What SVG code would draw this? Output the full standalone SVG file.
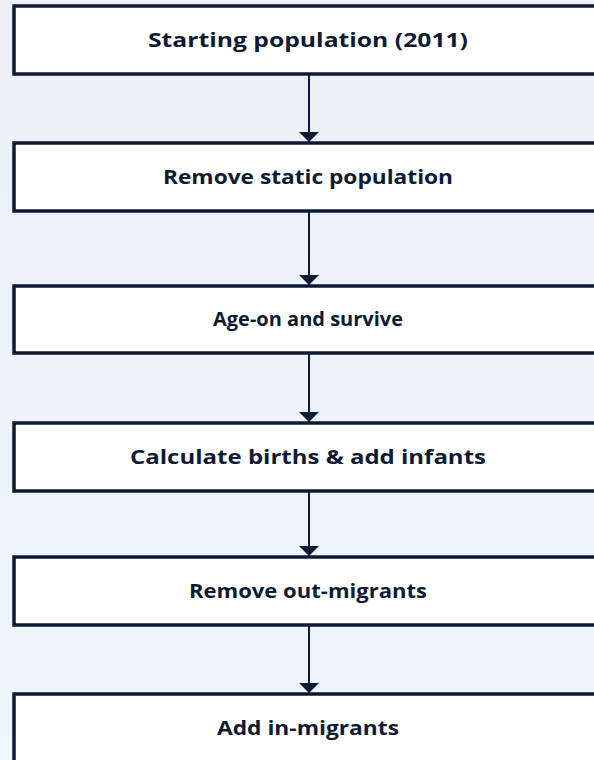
<svg xmlns="http://www.w3.org/2000/svg" width="594" height="760" viewBox="0 0 594 760">
  <defs>
    <linearGradient id="bg" x1="0" y1="0" x2="0" y2="1">
      <stop offset="0" stop-color="#eceef3"/>
      <stop offset="1" stop-color="#eff6fe"/>
    </linearGradient>
    <marker id="arrow" viewBox="0 0 10 20" refX="10" refY="10" markerWidth="10" markerHeight="20" markerUnits="userSpaceOnUse" orient="auto">
      <path d="M0,0 L10,10 L0,20 Z" fill="#0c1a33"/>
    </marker>
    <style>
      .box { fill: #ffffff; stroke: #0c1a33; stroke-width: 3.5; }
      .label { font-family: "Open Sans", "Liberation Sans", sans-serif; font-weight: bold; font-size: 19.5px; fill: #0d1a33; text-anchor: middle; }
      .conn { stroke: #0c1a33; stroke-width: 2; fill: none; marker-end: url(#arrow); }
    </style>
  </defs>

  <rect width="594" height="760" fill="url(#bg)"/>

  <g id="connectors">
    <line class="conn" x1="309" y1="74" x2="309" y2="142"/>
    <line class="conn" x1="309" y1="211" x2="309" y2="285"/>
    <line class="conn" x1="309" y1="353" x2="309" y2="422"/>
    <line class="conn" x1="309" y1="491" x2="309" y2="556"/>
    <line class="conn" x1="309" y1="625" x2="309" y2="693"/>
  </g>

  <g id="starting-population">
    <rect class="box" x="14" y="6" width="600" height="68"/>
    <text class="label" x="308" y="47" textLength="320" lengthAdjust="spacingAndGlyphs">Starting population (2011)</text>
  </g>
  <g id="remove-static">
    <rect class="box" x="14" y="143" width="600" height="68"/>
    <text class="label" x="308" y="184" textLength="290" lengthAdjust="spacingAndGlyphs">Remove static population</text>
  </g>
  <g id="age-on">
    <rect class="box" x="14" y="286" width="600" height="67"/>
    <text class="label" x="308" y="326" textLength="190" lengthAdjust="spacingAndGlyphs">Age-on and survive</text>
  </g>
  <g id="births">
    <rect class="box" x="14" y="423" width="600" height="68"/>
    <text class="label" x="308" y="464" textLength="356" lengthAdjust="spacingAndGlyphs">Calculate births &amp; add infants</text>
  </g>
  <g id="out-migrants">
    <rect class="box" x="14" y="557" width="600" height="68"/>
    <text class="label" x="308" y="598" textLength="238" lengthAdjust="spacingAndGlyphs">Remove out-migrants</text>
  </g>
  <g id="in-migrants">
    <rect class="box" x="14" y="694" width="600" height="68"/>
    <text class="label" x="308" y="735" textLength="182" lengthAdjust="spacingAndGlyphs">Add in-migrants</text>
  </g>
</svg>
